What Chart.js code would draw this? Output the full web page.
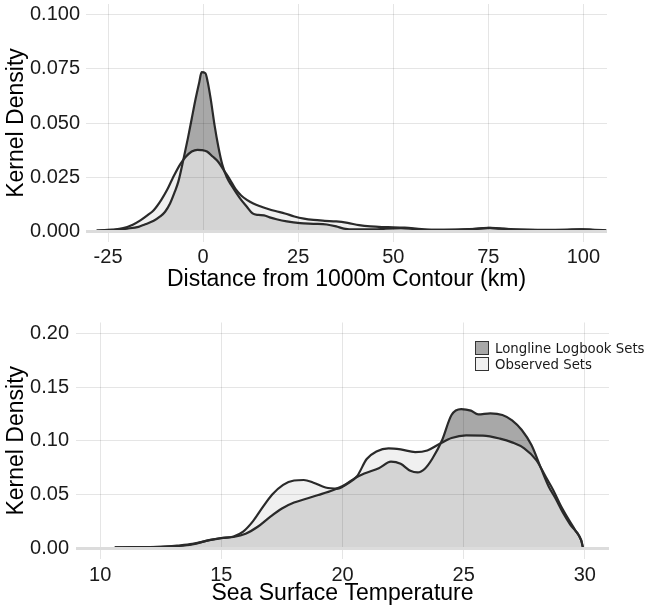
<!DOCTYPE html>
<html lang="en">
<head>
<meta charset="UTF-8">
<title>Kernel density</title>
<script src="https://cdn.jsdelivr.net/npm/chart.js@4.4.1/dist/chart.umd.min.js"></script>
<style>
    html, body { margin: 0; padding: 0; background: #fff; overflow: hidden; }
    #wrap { position: relative; width: 648px; height: 607px; }
    #top-chart { position: absolute; left: 0; top: 0; }
    #bottom-chart { position: absolute; left: 0; top: 300px; }
    .legend { position: absolute; left: 475px; top: 341px; font: 13.3px "DejaVu Sans", sans-serif; color: #1a1a1a; }
    .legend-item { position: relative; height: 16px; line-height: 15px; padding-left: 20px; white-space: nowrap; }
    .legend-box { position: absolute; left: 0; top: 0; width: 12px; height: 12px; border: 1.5px solid #333; }
</style>
</head>
<body>
<div id="wrap">
    <canvas id="top-chart" width="648" height="300"></canvas>
    <canvas id="bottom-chart" width="648" height="307"></canvas>
    <div class="legend">
        <div class="legend-item"><span class="legend-box" style="background:#a8a8a8"></span>Longline Logbook Sets</div>
        <div class="legend-item"><span class="legend-box" style="background:#f0f0f0"></span>Observed Sets</div>
    </div>
</div>
<script>
// distance from 1000m contour (km) - top panel
const distLogKm = [-28, -24, -20, -17, -15.5, -13, -11.3, -10, -8.7, -7.5, -6.5, -5.2, -4, -3, -2, -1, -0.4, 0.6, 1.2, 2, 3, 4, 5, 6.2, 7.5, 8.8, 10, 11.5, 13, 14.5, 16, 17.5, 19.3, 22, 25.5, 29, 32.5, 35, 37, 40, 45, 48, 52, 55, 58, 62, 68, 72, 75.5, 79, 82, 90, 95, 99.5, 103, 106];
const distLogDensity = [0.0003, 0.0005, 0.0012, 0.002, 0.003, 0.0048, 0.0068, 0.009, 0.0128, 0.018, 0.023, 0.033, 0.043, 0.052, 0.061, 0.069, 0.0735, 0.073, 0.069, 0.061, 0.049, 0.039, 0.031, 0.025, 0.021, 0.0175, 0.0145, 0.0113, 0.0082, 0.0075, 0.0073, 0.0064, 0.0055, 0.0045, 0.0037, 0.0034, 0.0031, 0.0022, 0.0012, 0.0008, 0.0008, 0.0012, 0.0014, 0.0011, 0.0006, 0.0006, 0.0008, 0.0011, 0.0015, 0.0012, 0.0007, 0.0005, 0.0006, 0.0009, 0.0005, 0.0003];
const distObsKm = [-28, -24, -21, -18.5, -16.5, -14.5, -13, -11, -9.5, -8, -6, -4.5, -3, -1.5, -0.5, 1, 2.5, 4, 5.5, 7, 8.5, 10, 11.5, 13.2, 15, 16.7, 19, 21.5, 24, 26.5, 29, 32, 35, 38, 41, 44, 47, 50, 53, 56, 60, 65, 70, 75, 78, 82, 88, 94, 99, 103, 106];
const distObsDensity = [0.0003, 0.0007, 0.0014, 0.003, 0.005, 0.0075, 0.0097, 0.0145, 0.019, 0.0245, 0.031, 0.0345, 0.0368, 0.0376, 0.0375, 0.0368, 0.0345, 0.032, 0.028, 0.024, 0.0195, 0.0165, 0.0145, 0.0128, 0.0115, 0.0105, 0.0093, 0.0082, 0.0068, 0.0058, 0.0052, 0.0048, 0.0045, 0.0038, 0.0028, 0.0022, 0.0019, 0.0018, 0.0016, 0.0012, 0.0006, 0.0006, 0.0009, 0.0015, 0.0012, 0.0008, 0.0006, 0.0006, 0.0009, 0.0006, 0.0004];
const distTicks = [-25, 0, 25, 50, 75, 100];
const distTickLabels = ['-25', '0', '25', '50', '75', '100'];
const distDensityTicks = [0, 0.025, 0.05, 0.075, 0.1];
const distDensityLabels = ['0.000', '0.025', '0.050', '0.075', '0.100'];

// sea surface temperature - bottom panel
const sstLogTemp = [10.6, 11.5, 12.5, 13.2, 13.8, 14.5, 15, 15.5, 16, 16.5, 17, 17.5, 18, 18.5, 19, 19.6, 20.1, 20.5, 20.9, 21.5, 22, 22.4, 22.8, 23.1, 23.4, 23.7, 24.1, 24.5, 24.9, 25.3, 25.6, 26.1, 26.6, 27, 27.4, 27.8, 28.2, 28.5, 28.8, 29.1, 29.4, 29.85, 29.93];
const sstLogDensity = [0.0008, 0.001, 0.0012, 0.002, 0.0035, 0.0075, 0.0095, 0.0105, 0.0135, 0.02, 0.029, 0.037, 0.0425, 0.046, 0.0495, 0.054, 0.059, 0.065, 0.0695, 0.0745, 0.0805, 0.0785, 0.072, 0.0705, 0.074, 0.083, 0.1, 0.124, 0.1295, 0.128, 0.1245, 0.1255, 0.124, 0.119, 0.11, 0.096, 0.074, 0.058, 0.046, 0.033, 0.022, 0.0075, 0];
const sstObsTemp = [10.6, 11.5, 12.5, 13.2, 13.8, 14.5, 15, 15.5, 15.9, 16.3, 16.7, 17.1, 17.55, 18, 18.4, 18.8, 19.3, 19.8, 20.2, 20.6, 21, 21.4, 21.9, 22.4, 23, 23.5, 24, 24.5, 25.1, 25.8, 26.5, 27, 27.5, 28, 28.4, 28.7, 29, 29.3, 29.6, 29.85, 29.93];
const sstObsDensity = [0.0008, 0.001, 0.0013, 0.0025, 0.004, 0.0075, 0.0095, 0.011, 0.0155, 0.025, 0.038, 0.05, 0.059, 0.063, 0.0635, 0.061, 0.0565, 0.0555, 0.06, 0.067, 0.083, 0.09, 0.093, 0.092, 0.0895, 0.091, 0.097, 0.1025, 0.105, 0.1048, 0.102, 0.0985, 0.093, 0.082, 0.066, 0.054, 0.04, 0.028, 0.017, 0.0075, 0];
const sstTicks = [10, 15, 20, 25, 30];
const sstTickLabels = ['10', '15', '20', '25', '30'];
const sstDensityTicks = [0, 0.05, 0.1, 0.15, 0.2];
const sstDensityLabels = ['0.00', '0.05', '0.10', '0.15', '0.20'];

const TICK_FONT = { family: '"Liberation Sans", Arial, sans-serif', size: 20 };
const TITLE_FONT = { family: '"Liberation Sans", Arial, sans-serif', size: 23 };

function points(xs, ys) {
    return xs.map((x, i) => ({ x: x, y: ys[i] }));
}

// fixed axis box sizes so the plot area lands where the original has it
function fixSize(size) {
    return function (scale) {
        if (scale.isHorizontal()) scale.height = size;
        else scale.width = size;
        scale.paddingTop = 0;
        scale.paddingBottom = 0;
        scale.paddingLeft = 0;
        scale.paddingRight = 0;
    };
}

function setTicks(values) {
    return function (scale) {
        scale.ticks = values.map(v => ({ value: v }));
    };
}

function densityChart(id, cfg) {
    const ctx = document.getElementById(id).getContext('2d');
    return new Chart(ctx, {
        type: 'line',
        data: {
            datasets: [{
                label: 'Observed Sets',
                data: points(cfg.obsX, cfg.obsY),
                borderColor: '#2a2a2a',
                backgroundColor: 'rgba(233, 233, 233, 0.674)',
                borderWidth: 2.2,
                fill: 'origin',
                pointRadius: 0,
                cubicInterpolationMode: 'monotone'
            }, {
                label: 'Longline Logbook Sets',
                data: points(cfg.logX, cfg.logY),
                borderColor: '#2a2a2a',
                backgroundColor: 'rgba(0, 0, 0, 0.34)',
                borderWidth: 2.2,
                fill: 'origin',
                pointRadius: 0,
                cubicInterpolationMode: 'monotone'
            }]
        },
        options: {
            responsive: false,
            animation: false,
            layout: { padding: cfg.padding },
            plugins: {
                legend: { display: false },
                tooltip: { enabled: false },
                filler: { drawTime: 'beforeDatasetsDraw' }
            },
            scales: {
                x: {
                    type: 'linear',
                    min: cfg.xMin,
                    max: cfg.xMax,
                    afterBuildTicks: setTicks(cfg.xTicks),
                    afterFit: fixSize(cfg.xHeight),
                    border: { display: false },
                    grid: { color: 'rgba(0, 0, 0, 0.1)', drawTicks: false, z: 1 },
                    ticks: {
                        font: TICK_FONT,
                        color: '#1a1a1a',
                        padding: cfg.xTickPad,
                        maxRotation: 0,
                        autoSkip: false,
                        callback: (v, i) => cfg.xLabels[i]
                    },
                    title: {
                        display: true,
                        text: cfg.xTitle,
                        font: TITLE_FONT,
                        color: '#000',
                        padding: { top: 0, bottom: cfg.xTitlePad }
                    }
                },
                y: {
                    min: cfg.yMin,
                    max: cfg.yMax,
                    afterBuildTicks: setTicks(cfg.yTicks),
                    afterFit: fixSize(cfg.yWidth),
                    border: { display: false },
                    grid: {
                        drawTicks: false,
                        z: 1,
                        color: c => c.tick && c.tick.value === 0 ? '#dcdcdc' : 'rgba(0, 0, 0, 0.1)',
                        lineWidth: c => c.tick && c.tick.value === 0 ? 3 : 1
                    },
                    ticks: {
                        font: TICK_FONT,
                        color: '#1a1a1a',
                        padding: cfg.yTickPad,
                        autoSkip: false,
                        callback: (v, i) => cfg.yLabels[i]
                    },
                    title: {
                        display: true,
                        text: 'Kernel Density',
                        font: TITLE_FONT,
                        color: '#000',
                        padding: { top: 2.7, bottom: 0 }
                    }
                }
            }
        }
    });
}

densityChart('top-chart', {
    logX: distLogKm, logY: distLogDensity,
    obsX: distObsKm, obsY: distObsDensity,
    xMin: -30.8, xMax: 106.2, yMin: -0.005, yMax: 0.105,
    xTicks: distTicks, xLabels: distTickLabels,
    yTicks: distDensityTicks, yLabels: distDensityLabels,
    xTitle: 'Distance from 1000m Contour (km)',
    padding: { left: 0, right: 41, top: 4, bottom: 0 },
    xHeight: 58, yWidth: 86,
    xTickPad: 3, yTickPad: 6, xTitlePad: 6.4
});

densityChart('bottom-chart', {
    logX: sstLogTemp, logY: sstLogDensity,
    obsX: sstObsTemp, obsY: sstObsDensity,
    xMin: 9, xMax: 31, yMin: -0.01, yMax: 0.21,
    xTicks: sstTicks, xLabels: sstTickLabels,
    yTicks: sstDensityTicks, yLabels: sstDensityLabels,
    xTitle: 'Sea Surface Temperature',
    padding: { left: 0, right: 39, top: 22.5, bottom: 0 },
    xHeight: 48, yWidth: 76,
    xTickPad: 4, yTickPad: 7, xTitlePad: -0.6
});
</script>
</body>
</html>
